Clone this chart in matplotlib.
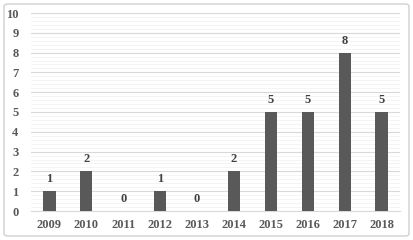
import numpy as np
import matplotlib
matplotlib.use('Agg')
from matplotlib import pyplot as plt
from matplotlib.patches import FancyBboxPatch

years = ['2009', '2010', '2011', '2012', '2013', '2014', '2015', '2016', '2017', '2018']
counts = [1, 2, 0, 1, 0, 2, 5, 5, 8, 5]

plt.rcParams['font.family'] = ['Liberation Serif', 'DejaVu Serif']
text_color = '#595959'

fig = plt.figure(figsize=(4.13, 2.4), dpi=100)
ax = fig.add_axes([31 / 413, 29 / 240, 369 / 413, 198 / 240])

# light frame around the chart area
fig.patches.append(FancyBboxPatch((4 / 413, 4 / 240), 405 / 413, 232 / 240,
                                  boxstyle='round,pad=0,rounding_size=0.01',
                                  transform=fig.transFigure, fill=False,
                                  edgecolor='#d0d0d0', linewidth=1.0))

x = np.arange(len(years))
ax.bar(x, counts, width=0.33, color='#595959', zorder=3)
for xi, v in zip(x, counts):
    ax.text(xi, v + 0.3, str(v), ha='center', va='bottom', fontsize=9,
            fontweight='bold', color='#404040')

ax.set_xlim(-0.5, len(years) - 0.5)
ax.set_ylim(0, 10)
ax.set_yticks(range(0, 11))
ax.set_yticks(np.arange(0, 10.01, 0.2), minor=True)
ax.set_xticks(x)
ax.set_xticklabels(years)
ax.grid(axis='y', which='major', color='#d9d9d9', linewidth=0.8, zorder=0)
ax.grid(axis='y', which='minor', color='#f3f3f3', linewidth=0.6, zorder=0)
ax.tick_params(axis='both', which='both', length=0, labelsize=9,
               labelcolor=text_color)
ax.tick_params(axis='y', pad=9)
ax.tick_params(axis='x', pad=6)
for lbl in ax.get_xticklabels() + ax.get_yticklabels():
    lbl.set_fontweight('bold')
for s in ['top', 'right', 'left']:
    ax.spines[s].set_visible(False)
ax.spines['bottom'].set_color('#d9d9d9')

fig.savefig('out.png', dpi=100)
